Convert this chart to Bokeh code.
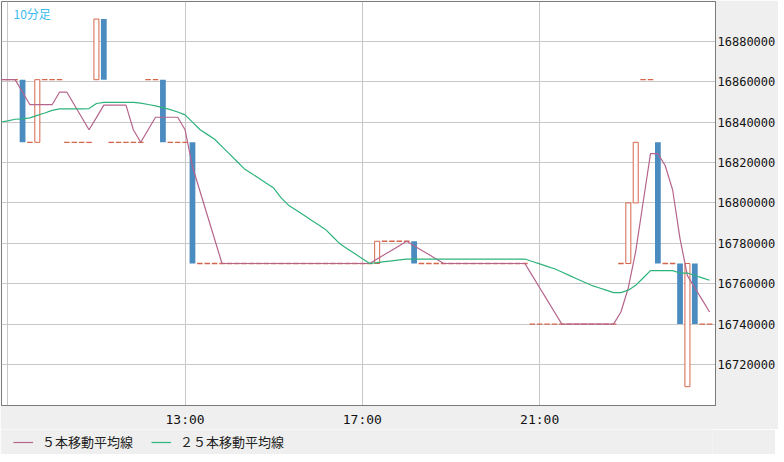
import pandas as pd
from bokeh.plotting import figure
from bokeh.layouts import column
from bokeh.models import (ColumnDataSource, Range1d, FixedTicker, BasicTickFormatter,
                          Legend, LegendItem, Label)
from bokeh.embed import file_html
from bokeh.resources import INLINE

# 10-minute bars, 08:50 .. 00:50
times = list(pd.date_range("2024-01-01 08:50", periods=97, freq="10min").strftime("%H:%M"))

opens = [
    16861000, 16861000, 16861000, 16861000, 16830000, 16830000, 16861000, 16861000,
    16861000, 16830000, 16830000, 16830000, 16830000, 16861000, 16891000, 16830000,
    16830000, 16830000, 16830000, 16830000, 16861000, 16861000, 16861000, 16830000,
    16830000, 16830000, 16830000, 16770000, 16770000, 16770000, 16770000, 16770000,
    16770000, 16770000, 16770000, 16770000, 16770000, 16770000, 16770000, 16770000,
    16770000, 16770000, 16770000, 16770000, 16770000, 16770000, 16770000, 16770000,
    16770000, 16770000, 16770000, 16770000, 16781000, 16781000, 16781000, 16781000,
    16781000, 16770000, 16770000, 16770000, 16770000, 16770000, 16770000, 16770000,
    16770000, 16770000, 16770000, 16770000, 16770000, 16770000, 16770000, 16770000,
    16740000, 16740000, 16740000, 16740000, 16740000, 16740000, 16740000, 16740000,
    16740000, 16740000, 16740000, 16740000, 16770000, 16770000, 16800000, 16861000,
    16861000, 16830000, 16770000, 16770000, 16770000, 16709000, 16770000, 16740000,
    16740000,
]

closes = [
    16861000, 16861000, 16861000, 16830000, 16830000, 16861000, 16861000, 16861000,
    16861000, 16830000, 16830000, 16830000, 16830000, 16891000, 16861000, 16830000,
    16830000, 16830000, 16830000, 16830000, 16861000, 16861000, 16830000, 16830000,
    16830000, 16830000, 16770000, 16770000, 16770000, 16770000, 16770000, 16770000,
    16770000, 16770000, 16770000, 16770000, 16770000, 16770000, 16770000, 16770000,
    16770000, 16770000, 16770000, 16770000, 16770000, 16770000, 16770000, 16770000,
    16770000, 16770000, 16770000, 16781000, 16781000, 16781000, 16781000, 16781000,
    16770000, 16770000, 16770000, 16770000, 16770000, 16770000, 16770000, 16770000,
    16770000, 16770000, 16770000, 16770000, 16770000, 16770000, 16770000, 16770000,
    16740000, 16740000, 16740000, 16740000, 16740000, 16740000, 16740000, 16740000,
    16740000, 16740000, 16740000, 16740000, 16770000, 16800000, 16830000, 16861000,
    16861000, 16770000, 16770000, 16770000, 16740000, 16770000, 16740000, 16740000,
    16740000,
]

ma5 = [
    16861000, 16861000, 16861000, 16854800, 16848600, 16848600, 16848600, 16848600,
    16854800, 16854800, 16848600, 16842400, 16836200, 16842200, 16848400, 16848400,
    16848400, 16848400, 16836200, 16830000, 16836200, 16842400, 16842400, 16842400,
    16842400, 16836200, 16818000, 16806000, 16794000, 16782000, 16770000, 16770000,
    16770000, 16770000, 16770000, 16770000, 16770000, 16770000, 16770000, 16770000,
    16770000, 16770000, 16770000, 16770000, 16770000, 16770000, 16770000, 16770000,
    16770000, 16770000, 16770000, 16772200, 16774400, 16776600, 16778800, 16781000,
    16778800, 16776600, 16774400, 16772200, 16770000, 16770000, 16770000, 16770000,
    16770000, 16770000, 16770000, 16770000, 16770000, 16770000, 16770000, 16770000,
    16764000, 16758000, 16752000, 16746000, 16740000, 16740000, 16740000, 16740000,
    16740000, 16740000, 16740000, 16740000, 16746000, 16758000, 16776000, 16800200,
    16824400, 16824400, 16818400, 16806400, 16782200, 16764000, 16758000, 16752000,
    16746000,
]

ma25 = [
    16840000, 16840600, 16841400, 16841600, 16842100, 16843300, 16844500, 16845800,
    16846500, 16846500, 16846500, 16846500, 16846700, 16849200, 16849800, 16849800,
    16849800, 16849800, 16849800, 16849400, 16848700, 16848000, 16847200, 16846200,
    16845000, 16843600, 16839960, 16836320, 16833920, 16831520, 16827880, 16824240,
    16820600, 16816960, 16814560, 16812160, 16809760, 16807360, 16802520, 16798880,
    16796480, 16794080, 16791680, 16789280, 16786880, 16783240, 16779600, 16777200,
    16774800, 16772400, 16770000, 16770440, 16770880, 16771320, 16771760, 16772200,
    16772200, 16772200, 16772200, 16772200, 16772200, 16772200, 16772200, 16772200,
    16772200, 16772200, 16772200, 16772200, 16772200, 16772200, 16772200, 16772200,
    16771000, 16769800, 16768600, 16767400, 16765760, 16764120, 16762480, 16760840,
    16759200, 16758000, 16756800, 16755600, 16755600, 16756800, 16759200, 16762840,
    16766480, 16766480, 16766480, 16766480, 16765280, 16765280, 16764080, 16762880,
    16761680,
]

tick_times = ["09:00", "13:00", "17:00", "21:00"]
tick_labels = ["", "13:00", "17:00", "21:00"]
y_ticks = [16720000, 16740000, 16760000, 16780000, 16800000,
           16820000, 16840000, 16860000, 16880000]
ma_names = ["５本移動平均線", "２５本移動平均線"]

RED = "#d6664b"
BLUE = "#4a8bc0"
PINK = "#b5648c"
GREEN = "#2db37c"
PANEL = "#efefef"

df = pd.DataFrame({"t": times, "open": opens, "close": closes, "ma5": ma5, "ma25": ma25})
df["x"] = range(len(df))
up = ColumnDataSource(df[df.close > df.open])
down = ColumnDataSource(df[df.close < df.open])
doji = ColumnDataSource(df[df.close == df.open])
lines = ColumnDataSource(df)

p = figure(frame_width=714, frame_height=404, output_backend="svg", toolbar_location=None,
           y_axis_location="right",
           x_range=Range1d(0.15, 96.8), y_range=Range1d(16699700, 16899700),
           min_border_left=1, min_border_top=1, min_border_right=0, min_border_bottom=24)
p.background_fill_color = "white"
p.border_fill_color = PANEL
p.outline_line_color = "#7a7a7a"

xt = FixedTicker(ticks=[times.index(t) for t in tick_times])
p.xaxis.ticker = xt
p.xaxis.major_label_overrides = {times.index(t): l for t, l in zip(tick_times, tick_labels)}
p.yaxis.ticker = FixedTicker(ticks=y_ticks)
p.yaxis.formatter = BasicTickFormatter(use_scientific=False)
for ax in (p.xaxis, p.yaxis):
    ax.major_tick_line_color = None
    ax.minor_tick_line_color = None
    ax.major_tick_out = 0
    ax.major_tick_in = 0
    ax.minor_tick_out = 0
    ax.axis_line_color = "#7a7a7a"
    ax.major_label_text_font = "DejaVu Sans Mono"
    ax.major_label_text_color = "#111111"
p.xaxis.major_label_text_font_size = "13px"
p.xaxis.major_label_standoff = 6
p.yaxis.major_label_text_font_size = "12px"
p.yaxis.major_label_standoff = 2
p.xgrid.ticker = xt
p.grid.grid_line_color = "#c8c8c8"

p.vbar(x="x", width=0.68, top="close", bottom="open", source=up,
       fill_color="white", line_color=RED, line_width=1)
p.vbar(x="x", width=0.78, top="open", bottom="close", source=down,
       fill_color=BLUE, line_color=None)
p.scatter(x="x", y="close", source=doji, marker="dash", size=5.5,
          line_color=RED, line_width=1.3)

p.line(x="x", y="ma5", source=lines, line_color=PINK, line_width=1.2)
p.line(x="x", y="ma25", source=lines, line_color=GREEN, line_width=1.2)

p.add_layout(Label(x=p.x_range.start, y=p.y_range.end, x_offset=12, y_offset=-3,
                   text="10分足", text_baseline="top", text_color="#3bbcf0",
                   text_font="Noto Sans CJK JP", text_font_size="12px"))

# legend strip under the chart (sample lines sit outside the strip's range)
lg = figure(width=775, height=25, output_backend="svg", toolbar_location=None,
            x_range=Range1d(0, 1), y_range=Range1d(0, 1),
            x_axis_location=None, y_axis_location=None, min_border=0)
lg.background_fill_color = PANEL
lg.border_fill_color = PANEL
lg.outline_line_color = None
lg.grid.visible = False
k5 = lg.line(x=[5, 6], y=[5, 6], line_color=PINK, line_width=1.2)
k25 = lg.line(x=[5, 6], y=[5, 6], line_color=GREEN, line_width=1.2)
legend = Legend(items=[LegendItem(label=ma_names[0], renderers=[k5]),
                       LegendItem(label=ma_names[1], renderers=[k25])],
                orientation="horizontal", location=(12, 3))
legend.label_text_font = "Noto Sans CJK JP"
legend.label_text_font_size = "13px"
legend.label_text_color = "#222222"
legend.glyph_width = 20
legend.glyph_height = 14
legend.label_height = 14
legend.label_standoff = 9
legend.spacing = 18
legend.padding = 2
legend.margin = 0
legend.border_line_color = None
legend.background_fill_alpha = 0
lg.add_layout(legend)

layout = column(p, lg, spacing=0)
open("out.html", "w").write(file_html(layout, INLINE))
